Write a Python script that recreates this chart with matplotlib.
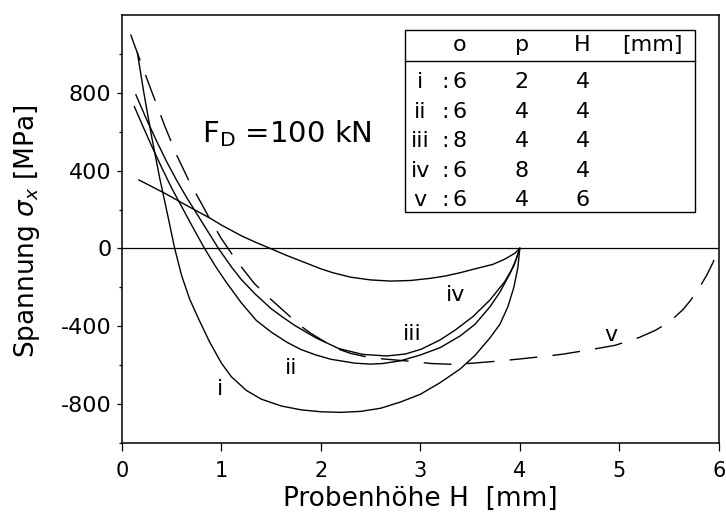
import numpy as np
import matplotlib.pyplot as plt
from matplotlib.patches import Rectangle

plt.rcParams['font.family'] = ['DejaVu Sans']
plt.rcParams['axes.unicode_minus'] = False
plt.rcParams['mathtext.fontset'] = 'dejavusans'

# curve i  (o=6, p=2, H=4)
x_i = [0.155, 0.22, 0.3, 0.38, 0.46, 0.53, 0.6, 0.68, 0.77, 0.88, 1.0, 1.1, 1.25, 1.4,
       1.6, 1.8, 2.0, 2.2, 2.4, 2.6, 2.8, 3.0, 3.2, 3.4, 3.55, 3.7, 3.8, 3.88, 3.94, 3.98, 4.0]
y_i = [1006, 800, 570, 360, 170, 0, -140, -260, -362, -480, -590, -660, -730, -775,
       -810, -830, -840, -843, -838, -822, -790, -750, -690, -620, -550, -460, -390, -300, -200, -100, 0]

# curve ii  (o=6, p=4, H=4)
x_ii = [0.125, 0.2, 0.3, 0.4, 0.5, 0.6, 0.7, 0.83, 0.95, 1.05, 1.2, 1.35, 1.5, 1.66, 1.8,
        1.95, 2.1, 2.34, 2.5, 2.62, 2.8, 3.0, 3.2, 3.4, 3.55, 3.7, 3.8, 3.9, 3.96, 4.0]
y_ii = [729, 640, 525, 415, 310, 215, 120, 0, -100, -175, -280, -370, -430, -483, -520,
        -548, -570, -590, -595, -592, -578, -548, -510, -450, -390, -300, -225, -130, -60, 0]

# curve iii  (o=8, p=4, H=4)
x_iii = [0.14, 0.25, 0.35, 0.45, 0.55, 0.65, 0.75, 0.86, 0.97, 1.1, 1.2, 1.34, 1.5, 1.62,
         1.74, 1.95, 2.18, 2.42, 2.66, 2.85, 3.01, 3.2, 3.35, 3.53, 3.7, 3.85, 3.94, 4.0]
y_iii = [790, 660, 550, 445, 350, 262, 180, 90, 0, -95, -160, -235, -310, -355,
         -397, -460, -515, -545, -553, -543, -518, -470, -420, -350, -265, -170, -90, 0]

# curve iv  (o=6, p=8, H=4)
x_iv = [0.17, 0.3, 0.45, 0.6, 0.75, 0.88, 1.0, 1.2, 1.35, 1.49, 1.65, 1.8, 2.0, 2.12,
        2.3, 2.5, 2.7, 2.9, 3.1, 3.25, 3.4, 3.55, 3.73, 3.85, 3.95, 4.0]
y_iv = [352, 318, 278, 235, 193, 157, 120, 65, 30, 0, -35, -65, -105, -125,
        -148, -162, -168, -165, -154, -142, -125, -105, -82, -55, -25, 0]

# curve v  (o=6, p=4, H=6), dashed
x_v = [0.087, 0.18, 0.3, 0.43, 0.55, 0.68, 0.8, 0.9, 1.0, 1.1, 1.2, 1.33, 1.45, 1.58, 1.7,
       1.8, 1.9, 2.02, 2.16, 2.3, 2.45, 2.62, 2.89, 3.11, 3.33, 3.53, 3.77, 3.97, 4.25,
       4.43, 4.72, 4.96, 5.2, 5.36, 5.5, 5.64, 5.72, 5.8, 5.88, 5.94, 6.0]
y_v = [1100, 970, 805, 630, 480, 340, 230, 135, 50, -25, -95, -180, -240, -300, -355,
       -400, -437, -474, -515, -540, -557, -568, -580, -592, -596, -590, -580, -570, -555,
       -544, -520, -498, -458, -422, -380, -315, -265, -206, -137, -75, 0]

# curve labels
label_text = ["i", "ii", "iii", "iv", "v"]
label_x = [0.99, 1.7, 2.92, 3.35, 4.92]
label_y = [-725, -613, -440, -240, -447]

# parameter table
table_header = ["o", "p", "H", "[mm]"]
o_vals = [6, 6, 8, 6, 6]
p_vals = [2, 4, 4, 8, 4]
H_vals = [4, 4, 4, 4, 6]

xticks = [0, 1, 2, 3, 4, 5, 6]
yticks = [-800, -400, 0, 400, 800]
ytick_labels = ["-800", "-400", "0", "400", "800"]
yticks_minor = [-1000, -600, -200, 200, 600, 1000]

fig = plt.figure(figsize=(7.26, 5.18), dpi=100)
ax = fig.add_axes([0.168, 0.145, 0.822, 0.826])

lw = 1.0
ax.axhline(0, color='k', lw=0.9)
ax.plot(x_i, y_i, color='k', lw=lw)
ax.plot(x_ii, y_ii, color='k', lw=lw)
ax.plot(x_iii, y_iii, color='k', lw=lw)
ax.plot(x_iv, y_iv, color='k', lw=lw)
ax.plot(x_v, y_v, color='k', lw=lw, dashes=(20, 11))

for t, x, y in zip(label_text, label_x, label_y):
    ax.text(x, y, t, fontsize=16, ha='center', va='center')

ax.text(0.8, 592, r"F$_\mathrm{D}$ =100 kN", fontsize=21, ha='left', va='center')

# table drawn in axes coordinates
tl, tr, tt, tb, th = 0.474, 0.961, 0.965, 0.540, 0.8925
ax.add_patch(Rectangle((tl, tb), tr - tl, tt - tb, transform=ax.transAxes,
                       fill=False, lw=1.0, ec='k'))
ax.plot([tl, tr], [th, th], transform=ax.transAxes, color='k', lw=1.0)
col_x = [0.566, 0.670, 0.772, 0.889]
for cx, h in zip(col_x, table_header):
    ax.text(cx, 0.930, h, transform=ax.transAxes, fontsize=16, ha='center', va='center')
for k in range(len(label_text)):
    ry = 0.843 - k * 0.0688
    ax.text(0.5, ry, label_text[k], transform=ax.transAxes, fontsize=16, ha='center', va='center')
    ax.text(0.541, ry, ":", transform=ax.transAxes, fontsize=16, ha='center', va='center')
    ax.text(col_x[0], ry, str(o_vals[k]), transform=ax.transAxes, fontsize=16, ha='center', va='center')
    ax.text(col_x[1], ry, str(p_vals[k]), transform=ax.transAxes, fontsize=16, ha='center', va='center')
    ax.text(col_x[2], ry, str(H_vals[k]), transform=ax.transAxes, fontsize=16, ha='center', va='center')

ax.set_xlim(0, 6)
ax.set_ylim(-1000, 1200)
ax.set_xticks(xticks)
ax.set_xticklabels([str(v) for v in xticks])
ax.set_yticks(yticks)
ax.set_yticklabels(ytick_labels)
ax.set_yticks(yticks_minor, minor=True)
ax.tick_params(axis='x', direction='out', length=6, width=0.9, pad=7, labelsize=15)
ax.tick_params(axis='y', which='major', direction='out', length=3.5, width=0.9, pad=4, labelsize=16)
ax.tick_params(axis='y', which='minor', direction='out', length=2, width=0.9)
for s in ax.spines.values():
    s.set_linewidth(1.1)

ax.set_xlabel("Probenhöhe H  [mm]", fontsize=19)
ax.xaxis.label.set_va('center')
ax.xaxis.set_label_coords(0.5, -0.132)
ax.set_ylabel(r"Spannung $\sigma_x$ [MPa]", fontsize=19)
ax.yaxis.label.set_va('center')
ax.yaxis.set_label_coords(-0.159, 0.495)

fig.savefig("out.png", dpi=100)
